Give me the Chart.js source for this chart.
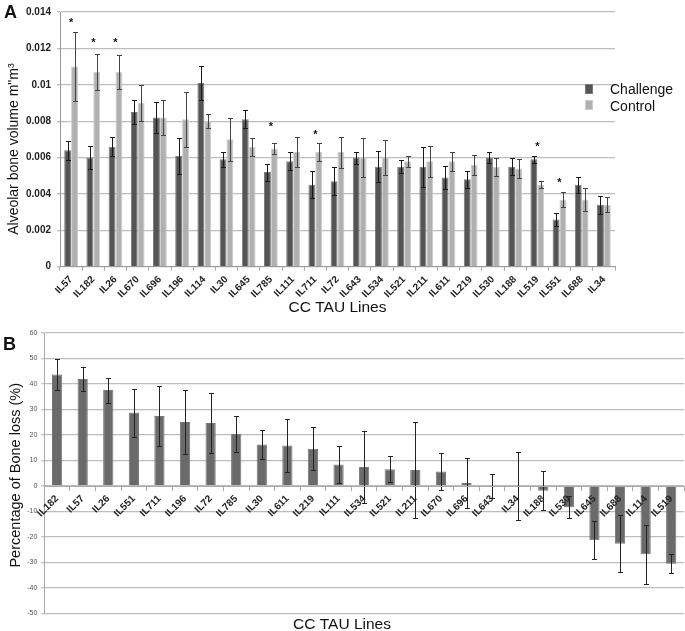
<!DOCTYPE html>
<html><head><meta charset="utf-8">
<script src="https://cdn.jsdelivr.net/npm/chart.js@4.4.1/dist/chart.umd.min.js"></script>
<style>
html,body{margin:0;padding:0;background:#fff;overflow:hidden;width:685px;height:631px;}
#wrap{position:relative;width:685px;height:631px;overflow:hidden;}
canvas{position:absolute;left:0;}
#cA{top:0;} #cB{top:316px;}
.t{position:absolute;font-family:'Liberation Sans',Arial,sans-serif;color:#111;white-space:nowrap;}
.panel{font-size:18px;line-height:18px;font-weight:bold;}
.leg{font-size:14px;line-height:14px;}
.box{position:absolute;width:8px;height:10px;}
</style></head><body>
<div id="wrap">
<canvas id="cA" width="685" height="318"></canvas>
<canvas id="cB" width="685" height="316"></canvas>
<div class="t panel" style="left:4px;top:2.5px">A</div>
<div class="t panel" style="left:3px;top:334.5px">B</div>
<div class="box" style="left:585px;top:84px;background:#555;border:1px solid #7a7a7a;box-sizing:border-box"></div>
<div class="box" style="left:585px;top:100px;background:#b0b0b0;border:1px solid #cdcdcd;box-sizing:border-box"></div>
<div class="t leg" style="left:610px;top:82px">Challenge</div>
<div class="t leg" style="left:610px;top:98.5px">Control</div>
</div>
<script>
// ---- Panel A data ----
const catsA = ['IL57','IL182','IL26','IL670','IL696','IL196','IL114','IL30','IL645','IL785','IL111','IL711','IL72','IL643','IL534','IL521','IL211','IL611','IL219','IL530','IL188','IL519','IL551','IL688','IL34'];
const challenge = [0.0064,0.0060,0.0066,0.0085,0.0082,0.0061,0.0101,0.0059,0.0081,0.0052,0.0058,0.0045,0.0047,0.0060,0.0055,0.0055,0.0055,0.0049,0.0048,0.0060,0.0055,0.0059,0.0026,0.0045,0.0034];
const challengeErr = [0.00052,0.00065,0.00052,0.00066,0.00085,0.0010,0.00095,0.0004,0.0005,0.00047,0.00048,0.00075,0.00077,0.00033,0.00086,0.00036,0.0011,0.00063,0.00048,0.00028,0.00048,0.00018,0.00037,0.00045,0.0005];
const control = [0.0110,0.0107,0.0107,0.0090,0.0082,0.0081,0.0080,0.0070,0.0066,0.0065,0.0063,0.0063,0.0063,0.0060,0.0060,0.0058,0.0058,0.0058,0.0056,0.0055,0.0054,0.0045,0.0037,0.0037,0.0034];
const controlErr = [0.0019,0.0010,0.00093,0.0010,0.00095,0.0015,0.00038,0.00117,0.0005,0.0003,0.00083,0.00048,0.00085,0.00107,0.00097,0.0003,0.00086,0.00053,0.00055,0.0005,0.0005,0.0002,0.0004,0.00062,0.00042];
const significanceMarkA = [0.01337,0.01227,0.01227,null,null,null,null,null,null,0.00765,null,0.00723,null,null,null,null,null,null,null,null,null,0.00653,0.00459,null,null];
const yTickLabelsA = ['0','0.002','0.004','0.006','0.008','0.01','0.012','0.014'];

// ---- Panel B data ----
const catsB = ['IL182','IL57','IL26','IL551','IL711','IL196','IL72','IL785','IL30','IL611','IL219','IL111','IL534','IL521','IL211','IL670','IL696','IL643','IL34','IL188','IL530','IL645','IL688','IL114','IL519'];
const boneLoss = [43.7,42.0,37.6,28.8,27.5,25.1,24.7,20.4,16.3,15.9,14.6,8.4,7.5,6.6,6.3,5.7,1.2,0,0,-1.9,-8.3,-21.3,-22.6,-26.8,-30.5];
const boneLossErr = [6.1,4.7,4.9,9.4,11.8,12.6,11.9,7.1,5.8,10.5,8.5,7.4,14.1,5.1,18.9,7.2,9.7,4.6,13.3,7.7,4.2,7.5,11.1,11.7,3.8];

const F = "'Liberation Sans', Arial, sans-serif";

function makeErrPlugin(sets){
  return {
    id:'errbars',
    afterDatasetsDraw(chart){
      const ctx = chart.ctx, ys = chart.scales.y;
      sets.forEach((s, di) => {
        const meta = chart.getDatasetMeta(di);
        ctx.save();
        ctx.strokeStyle = s.color; ctx.lineWidth = 1;
        meta.data.forEach((bar, i) => {
          const v = s.values[i], e = s.err[i];
          const x = Math.round(bar.x) + 0.5;
          const y1 = Math.round(ys.getPixelForValue(v + e)) + 0.5;
          const y2 = Math.round(ys.getPixelForValue(v - e)) + 0.5;
          ctx.beginPath();
          ctx.moveTo(x, y1); ctx.lineTo(x, y2);
          ctx.moveTo(x - 2.5, y1); ctx.lineTo(x + 2.5, y1);
          ctx.moveTo(x - 2.5, y2); ctx.lineTo(x + 2.5, y2);
          ctx.stroke();
        });
        ctx.restore();
      });
    }
  };
}

const starPlugin = {
  id:'stars',
  afterDatasetsDraw(chart){
    const ctx = chart.ctx, xs = chart.scales.x, ys = chart.scales.y;
    ctx.save();
    ctx.fillStyle = '#111';
    ctx.font = 'bold 11px ' + F;
    ctx.textAlign = 'center';
    ctx.textBaseline = 'alphabetic';
    significanceMarkA.forEach((v, i) => {
      if (v === null) return;
      ctx.fillText('*', xs.getPixelForValue(i), ys.getPixelForValue(v) + 2.5);
    });
    ctx.restore();
  }
};

new Chart(document.getElementById('cA'), {
  type:'bar',
  data:{labels:catsA, datasets:[
    {label:'Challenge', data:challenge, backgroundColor:'#555555', borderColor:'#7a7a7a', borderWidth:1},
    {label:'Control', data:control, backgroundColor:'#b0b0b0', borderColor:'#cdcdcd', borderWidth:1}
  ]},
  options:{
    responsive:false, animation:false, devicePixelRatio:1,
    layout:{padding:{left:0,right:70,top:7,bottom:1}},
    plugins:{legend:{display:false}, tooltip:{enabled:false}},
    datasets:{bar:{categoryPercentage:0.62, barPercentage:1}},
    scales:{
      x:{
        grid:{offset:true, drawOnChartArea:false, drawTicks:true, tickLength:4, color:'#aaaaaa'},
        border:{color:'#999999', width:1},
        ticks:{minRotation:45, maxRotation:45, autoSkip:false, font:{size:10, weight:'bold', family:F}, color:'#222', padding:3},
        title:{display:true, text:'CC TAU Lines', font:{size:15.5, family:F}, color:'#111', padding:{top:0,bottom:0}},
        afterFit:s => { s.height = 50.3; }
      },
      y:{
        min:0, max:0.014,
        ticks:{stepSize:0.002, callback:v => yTickLabelsA[Math.round(v/0.002)], font:{size:10, weight:'bold', family:F}, color:'#222', padding:6},
        grid:{color:'#bdbdbd', lineWidth:1.3, tickLength:3},
        border:{color:'#999999'},
        title:{display:true, text:'Alveolar bone volume m"m³\u00a0\u00a0\u00a0\u00a0\u00a0', font:{size:14, family:F}, color:'#111', padding:{top:5.6,bottom:0}},
        afterFit:s => { s.width = 60; }
      }
    }
  },
  plugins:[makeErrPlugin([{values:challenge, err:challengeErr, color:'#1a1a1a'},{values:control, err:controlErr, color:'#444'}]), starPlugin]
});

new Chart(document.getElementById('cB'), {
  type:'bar',
  data:{labels:catsB, datasets:[
    {label:'Percentage of Bone loss (%)', data:boneLoss, backgroundColor:'#6a6a6a', borderColor:'#777', borderWidth:1}
  ]},
  options:{
    responsive:false, animation:false, devicePixelRatio:1,
    layout:{padding:{left:0,right:1,top:17,bottom:0}},
    plugins:{
      legend:{display:false}, tooltip:{enabled:false},
      title:{display:true, position:'bottom', text:'CC TAU Lines', font:{size:15.5, family:F, weight:'normal', lineHeight:1}, color:'#111', padding:{top:3,bottom:0}}
    },
    datasets:{bar:{categoryPercentage:1, barPercentage:0.4}},
    scales:{
      x:{
        position:{y:0},
        grid:{offset:true, drawOnChartArea:false, drawTicks:true, tickLength:4, color:'#aaaaaa', z:1},
        border:{color:'#aaaaaa', z:1},
        ticks:{z:1, minRotation:45, maxRotation:45, autoSkip:false, font:{size:10, weight:'bold', family:F}, color:'#222', padding:3}
      },
      y:{
        min:-50, max:60,
        ticks:{stepSize:10, font:{size:7, family:F}, color:'#555', padding:4},
        grid:{color:'#bdbdbd', lineWidth:1.3, tickLength:3},
        border:{color:'#aaaaaa'},
        title:{display:true, text:'Percentage of Bone loss (%)\u00a0', font:{size:14.5, family:F}, color:'#111', padding:{top:7.3,bottom:0}},
        afterFit:s => { s.width = 44.3; }
      }
    }
  },
  plugins:[makeErrPlugin([{values:boneLoss, err:boneLossErr, color:'#222'}])]
});
</script>
</body></html>
